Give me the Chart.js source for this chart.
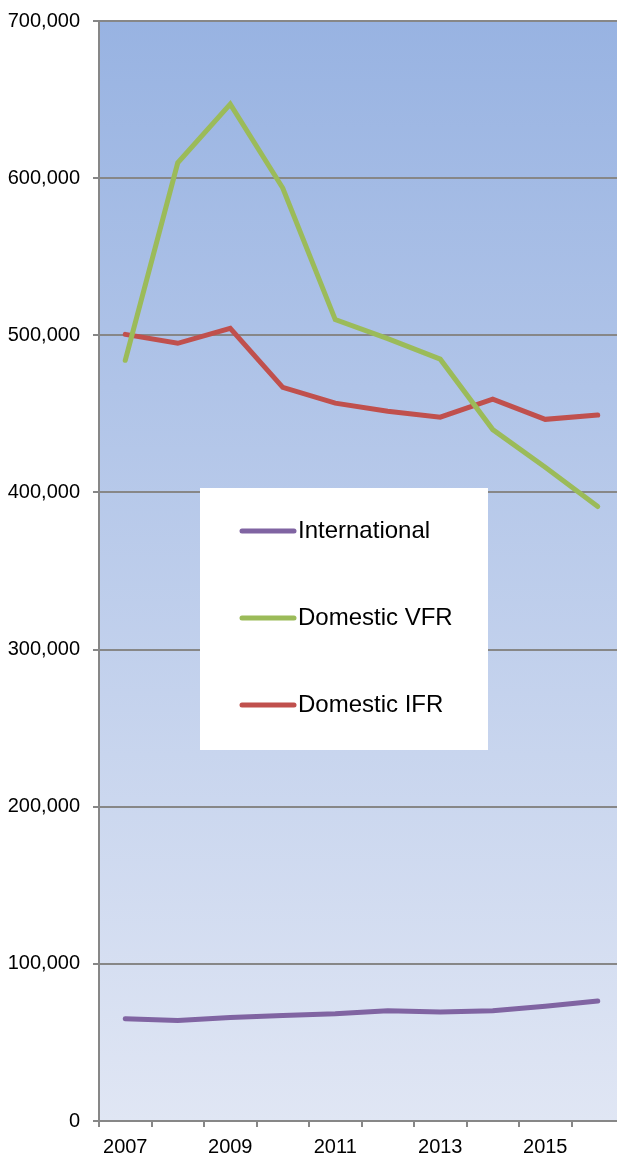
<!DOCTYPE html>
<html>
<head>
<meta charset="utf-8">
<script src="https://cdn.jsdelivr.net/npm/chart.js@4/dist/chart.umd.min.js"></script>
<style>
  html, body { margin: 0; padding: 0; background: #fff; overflow: hidden; }
  #wrap { width: 617px; height: 1159px; overflow: hidden; }
  #flights { display: block; margin-top: -4px; }
</style>
</head>
<body>
<div id="wrap"><canvas id="flights" width="640" height="1163"></canvas></div>
<script>
// values
const years = ["2007", "2008", "2009", "2010", "2011", "2012", "2013", "2014", "2015", "2016"];
const international = [65100, 64000, 65800, 67200, 68300, 70200, 69400, 70200, 73000, 76400];
const domesticVFR = [484100, 609800, 647100, 593700, 510000, 497900, 484800, 440000, 416000, 391000];
const domesticIFR = [500600, 494900, 504400, 466900, 456800, 451700, 447900, 459400, 446500, 449200];
const yTicks = [0, 100000, 200000, 300000, 400000, 500000, 600000, 700000];

const FONT = '"Liberation Sans", Arial, sans-serif';
const GREY = "#878787";
const SHIFT = 4; // canvas is pulled up by this much

// gradient fill behind the plot area
const plotBackground = {
  id: "plotBackground",
  beforeDraw(chart) {
    const { ctx, chartArea: a } = chart;
    const g = ctx.createLinearGradient(0, a.top, 0, a.bottom);
    g.addColorStop(0, "#98b3e2");
    g.addColorStop(1, "#e0e6f4");
    ctx.save();
    ctx.fillStyle = g;
    ctx.fillRect(a.left, a.top, a.right - a.left, a.bottom - a.top);
    ctx.restore();
  }
};

// white legend box drawn inside the plot
const boxLegend = {
  id: "boxLegend",
  afterDraw(chart) {
    const { ctx } = chart;
    const x = 200, y = 488 + SHIFT, w = 288, h = 262;
    ctx.save();
    ctx.fillStyle = "#ffffff";
    ctx.fillRect(x, y, w, h);
    ctx.font = "24px " + FONT;
    ctx.textBaseline = "middle";
    ctx.textAlign = "left";
    chart.data.datasets.forEach((ds, i) => {
      const cy = 531 + SHIFT + i * 87;
      ctx.strokeStyle = ds.borderColor;
      ctx.lineWidth = 5;
      ctx.lineCap = "round";
      ctx.beginPath();
      ctx.moveTo(242, cy);
      ctx.lineTo(294, cy);
      ctx.stroke();
      ctx.fillStyle = "#000";
      ctx.fillText(ds.label, 298, cy);
    });
    ctx.restore();
  }
};

new Chart(document.getElementById("flights").getContext("2d"), {
  type: "line",
  data: {
    labels: years,
    datasets: [
      { label: "International", data: international, borderColor: "#8064a2" },
      { label: "Domestic VFR", data: domesticVFR, borderColor: "#9bbb59" },
      { label: "Domestic IFR", data: domesticIFR, borderColor: "#c0504d" }
    ]
  },
  options: {
    responsive: false,
    animation: false,
    devicePixelRatio: 1,
    elements: {
      line: { borderWidth: 5, tension: 0, borderCapStyle: "round", fill: false },
      point: { radius: 0, hoverRadius: 0 }
    },
    layout: { padding: { left: 0, right: 16, top: 16, bottom: 0 } },
    plugins: { legend: { display: false }, tooltip: { enabled: false } },
    scales: {
      x: {
        offset: true,
        afterFit: (axis) => { axis.height = 38; },
        border: { color: GREY, width: 2 },
        grid: { offset: true, drawOnChartArea: false, drawTicks: true, tickLength: 6, color: GREY, lineWidth: 2 },
        ticks: {
          autoSkip: false,
          maxRotation: 0,
          padding: 8,
          color: "#000",
          font: { family: FONT, size: 20 },
          callback: (v, i) => (i % 2 === 0 ? years[i] : "")
        }
      },
      y: {
        min: 0,
        max: 700000,
        afterBuildTicks: (axis) => { axis.ticks = yTicks.map((v) => ({ value: v })); },
        afterFit: (axis) => { axis.width = 99; },
        border: { color: GREY, width: 2 },
        grid: { color: GREY, lineWidth: 2, tickLength: 6 },
        ticks: {
          padding: 13,
          color: "#000",
          font: { family: FONT, size: 20 },
          callback: (v) => v.toLocaleString("en-US")
        }
      }
    }
  },
  plugins: [plotBackground, boxLegend]
});
</script>
</body>
</html>
